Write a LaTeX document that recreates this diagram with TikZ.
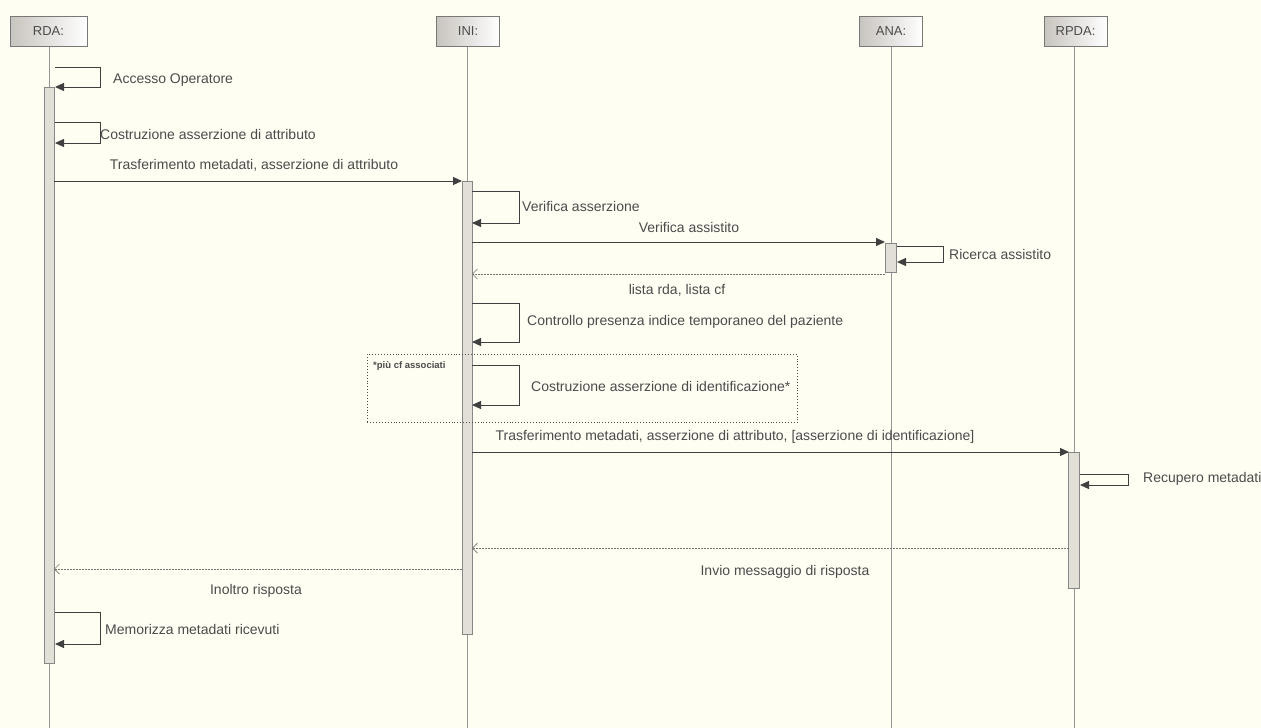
\documentclass[tikz,border=0pt]{standalone}
\usepackage{fontspec}
\setmainfont{Liberation Sans}
\usetikzlibrary{arrows.meta}
\definecolor{bg}{RGB}{255,254,243}
\definecolor{lline}{RGB}{150,150,150}
\definecolor{actfill}{RGB}{225,223,214}
\definecolor{txt}{RGB}{75,75,75}
\definecolor{headl}{RGB}{200,196,190}
\tikzset{
  head/.style={draw=lline!80!black, line width=1pt, left color=headl, right color=white, minimum width=63pt, minimum height=30pt, inner sep=0pt, font=\fontsize{13}{14}\selectfont, text=txt},
  lifeline/.style={draw=lline, line width=0.8pt},
  actbar/.style={draw=lline!90!black, fill=actfill, line width=0.8pt, minimum width=10pt, inner sep=0pt},
  msg/.style={draw=black!75, line width=1pt, -{Triangle[length=9pt,width=8pt]}},
  ret/.style={draw=black!55, line width=0.9pt, dash pattern=on 2pt off 1pt, -{Straight Barb[length=5pt,width=10pt,line width=0.7pt]}},
  selfmsg/.style={draw=black!75, line width=1pt, -{Triangle[length=9pt,width=8pt]}},
  lbl/.style={font=\fontsize{14}{16}\selectfont, text=txt, inner sep=1pt},
}
\begin{document}
\begin{tikzpicture}[x=1pt,y=-1pt]
\fill[bg] (0,0) rectangle (1261,728);
\useasboundingbox (0,0) rectangle (1261,728);

% heads
\node[head, minimum width=77pt] (rda) at (48.5,31.5) {RDA:};
\node[head] (ini) at (468,31.5) {INI:};
\node[head] (ana) at (891,31.5) {ANA:};
\node[head] (rpda) at (1075.5,31.5) {RPDA:};

% lifelines
\coordinate (rdaend) at (49,728);
\coordinate (iniend) at (467,728);
\coordinate (anaend) at (891,728);
\coordinate (rpdaend) at (1074,728);
\draw[lifeline] (rda.south -| rdaend) -- (rdaend);
\draw[lifeline] (ini.south -| iniend) -- (iniend);
\draw[lifeline] (ana.south -| anaend) -- (anaend);
\draw[lifeline] (rpda.south -| rpdaend) -- (rpdaend);

% activation bars
\node[actbar, minimum height=576pt, anchor=north] (rdaact) at (49,87) {};
\node[actbar, minimum height=453pt, anchor=north] (iniact) at (467,181) {};
\node[actbar, minimum height=29pt, minimum width=11pt, anchor=north] (anaact) at (891,243) {};
\node[actbar, minimum height=136pt, minimum width=11pt, anchor=north] (rpdaact) at (1074,452) {};

% dotted frame
\node[draw=black!70, dotted, line width=0.9pt, minimum width=430pt, minimum height=68pt, anchor=north west, inner sep=0pt] (frame) at (367,354) {};
\node[anchor=north west, font=\fontsize{9.5}{10}\selectfont\bfseries, text=txt, inner sep=1pt] (framelbl) at (372,360) {*più cf associati};

% self message: Accesso Operatore
\coordinate (s1a) at (55,67); \coordinate (s1b) at (55,87);
\draw[selfmsg] (s1a) -- (100,67) -- (100,87) -- (s1b);
\node[lbl, anchor=west] (l1) at (112,80) {Accesso Operatore};

% self: Costruzione asserzione di attributo
\coordinate (s2a) at (55,122); \coordinate (s2b) at (55,143);
\draw[selfmsg] (s2a) -- (100,122) -- (100,143) -- (s2b);
\node[lbl, anchor=west] (l2) at (99,134) {Costruzione asserzione di attributo};

% Trasferimento metadati
\coordinate (m1a) at (54,181); \coordinate (m1b) at (462,181);
\draw[msg] (m1a) -- (m1b);
\node[lbl] (l3) at (254,165) {Trasferimento metadati, asserzione di attributo};

% self INI Verifica asserzione
\coordinate (s3a) at (472,191); \coordinate (s3b) at (472,223);
\draw[selfmsg] (s3a) -- (519,191) -- (519,223) -- (s3b);
\node[lbl, anchor=west] (l4) at (521,206) {Verifica asserzione};

% Verifica assistito
\coordinate (m2a) at (472,242); \coordinate (m2b) at (885,242);
\draw[msg] (m2a) -- (m2b);
\node[lbl] (l5) at (689,227) {Verifica assistito};

% self ANA Ricerca assistito
\coordinate (s4a) at (897,246); \coordinate (s4b) at (897,262);
\draw[selfmsg] (s4a) -- (943,246) -- (943,262) -- (s4b);
\node[lbl, anchor=west] (l6) at (948,254) {Ricerca assistito};

% return lista rda
\coordinate (r1a) at (885,274); \coordinate (r1b) at (472,274);
\draw[ret] (r1a) -- (r1b);
\node[lbl] (l7) at (677,290) {lista rda, lista cf};

% self Controllo presenza
\coordinate (s5a) at (472,303); \coordinate (s5b) at (472,342);
\draw[selfmsg] (s5a) -- (519,303) -- (519,342) -- (s5b);
\node[lbl, anchor=west] (l8) at (526,322) {Controllo presenza indice temporaneo del paziente};

% self Costruzione asserzione di identificazione
\coordinate (s6a) at (472,365); \coordinate (s6b) at (472,405);
\draw[selfmsg] (s6a) -- (519,365) -- (519,405) -- (s6b);
\node[lbl, anchor=west] (l9) at (530,386) {Costruzione asserzione di identificazione*};

% Trasferimento to RPDA
\coordinate (m3a) at (472,452); \coordinate (m3b) at (1069,452);
\draw[msg] (m3a) -- (m3b);
\node[lbl] (l10) at (735,437) {Trasferimento metadati, asserzione di attributo, [asserzione di identificazione]};

% self RPDA Recupero metadati
\coordinate (s7a) at (1080,474); \coordinate (s7b) at (1080,485);
\draw[selfmsg] (s7a) -- (1128,474) -- (1128,485) -- (s7b);
\node[lbl, anchor=west] (l11) at (1142,479) {Recupero metadati};

% return Invio messaggio
\coordinate (r2a) at (1069,548); \coordinate (r2b) at (472,548);
\draw[ret] (r2a) -- (r2b);
\node[lbl] (l12) at (785,572) {Invio messaggio di risposta};

% return Inoltro risposta
\coordinate (r3a) at (462,569); \coordinate (r3b) at (54,569);
\draw[ret] (r3a) -- (r3b);
\node[lbl] (l13) at (256,591) {Inoltro risposta};

% self Memorizza
\coordinate (s8a) at (55,612); \coordinate (s8b) at (55,644);
\draw[selfmsg] (s8a) -- (100,612) -- (100,644) -- (s8b);
\node[lbl, anchor=west] (l14) at (104,629) {Memorizza metadati ricevuti};
\end{tikzpicture}
\end{document}
